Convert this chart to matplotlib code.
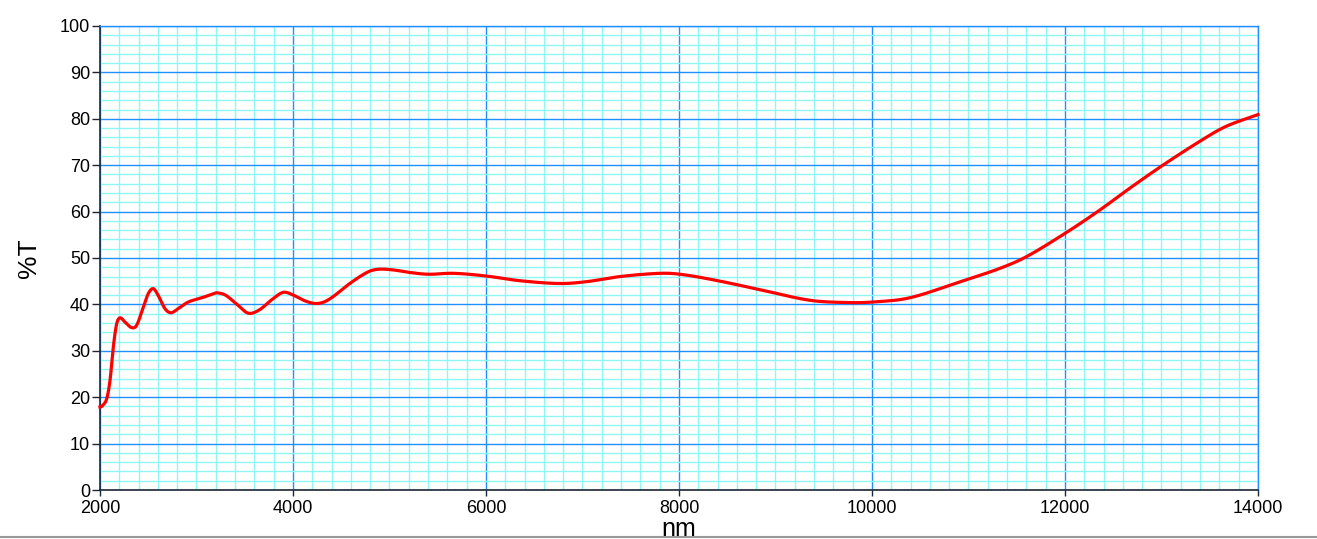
import matplotlib.pyplot as plt
import numpy as np
from matplotlib.ticker import MultipleLocator
from matplotlib.lines import Line2D

plt.rcParams['font.family'] = ['Liberation Sans', 'DejaVu Sans']

# wavelength (nm) and transmission (%T)
wl = [2000, 2018, 2069, 2104, 2138, 2173, 2207, 2259, 2328, 2380, 2449, 2500,
      2552, 2604, 2673, 2735, 2811, 2914, 3052, 3173, 3209, 3300, 3420, 3537,
      3650, 3780, 3900, 4003, 4120, 4228, 4320, 4418, 4550, 4694, 4800, 4901,
      5050, 5200, 5402, 5661, 6007, 6352, 6767, 7044, 7389, 7803, 8010, 8355,
      8834, 9351, 9731, 10000, 10386, 10903, 11317, 11593, 12000, 12352,
      12628, 13007, 13386, 13662, 14000]
trans = [17.9, 18.0, 19.6, 23.6, 30.8, 35.8, 37.1, 36.2, 35.0, 35.5, 39.4, 42.3,
         43.4, 41.9, 39.1, 38.2, 39.1, 40.5, 41.4, 42.3, 42.5, 42.0, 40.0, 38.1,
         38.8, 41.0, 42.6, 42.0, 40.8, 40.2, 40.5, 41.7, 43.9, 46.0, 47.2, 47.6,
         47.4, 46.9, 46.5, 46.7, 46.1, 45.1, 44.5, 44.9, 46.0, 46.7, 46.5, 45.3,
         43.2, 40.9, 40.4, 40.5, 41.4, 44.8, 47.7, 50.2, 55.3, 60.2,
         64.4, 69.9, 75.0, 78.3, 80.9]

xticks = [2000, 4000, 6000, 8000, 10000, 12000, 14000]
yticks = [0, 10, 20, 30, 40, 50, 60, 70, 80, 90, 100]

major_c = '#1E90FF'
minor_c = '#8EF6F6'

fig = plt.figure(figsize=(13.17, 5.39), dpi=100)
ax = fig.add_axes([0.0759, 0.0909, 0.8793, 0.8609])

# smooth the read points for drawing (cubic Hermite through them)
xs = np.array(wl, dtype=float)
ys = np.array(trans, dtype=float)
xf = np.linspace(xs[0], xs[-1], 3000)
def catmull(x, y, xn):
    out = np.empty_like(xn)
    idx = np.clip(np.searchsorted(x, xn) - 1, 0, len(x) - 2)
    for k, (i, xv) in enumerate(zip(idx, xn)):
        x0, x1 = x[i], x[i + 1]
        y0, y1 = y[i], y[i + 1]
        m0 = (y1 - y[i - 1]) / (x1 - x[i - 1]) if i > 0 else (y1 - y0) / (x1 - x0)
        m1 = (y[i + 2] - y0) / (x[i + 2] - x0) if i + 2 < len(x) else (y1 - y0) / (x1 - x0)
        h = x1 - x0
        t = (xv - x0) / h
        h00 = 2*t**3 - 3*t**2 + 1
        h10 = t**3 - 2*t**2 + t
        h01 = -2*t**3 + 3*t**2
        h11 = t**3 - t**2
        out[k] = h00*y0 + h10*h*m0 + h01*y1 + h11*h*m1
    return out
yf = catmull(xs, ys, xf)

ax.set_xlim(2000, 14000)
ax.set_ylim(0, 100)
ax.set_xticks(xticks)
ax.set_yticks(yticks)
ax.xaxis.set_minor_locator(MultipleLocator(200))
ax.yaxis.set_minor_locator(MultipleLocator(2))
ax.grid(which='minor', color=minor_c, linewidth=1.0, zorder=0)
ax.grid(which='major', color=major_c, linewidth=1.0, zorder=1)
ax.set_axisbelow(True)

ax.plot(xf, yf, color='#FF0000', linewidth=2.3, zorder=3, clip_on=False)

for s in ['top', 'right']:
    ax.spines[s].set_color(major_c)
    ax.spines[s].set_linewidth(1.0)
for s in ['left', 'bottom']:
    ax.spines[s].set_color('#1b2735')
    ax.spines[s].set_linewidth(1.2)

ax.tick_params(which='minor', length=0)
ax.tick_params(axis='y', which='major', length=6, width=1, color='#1b2735',
               labelsize=13, pad=1, labelcolor='black')
ax.tick_params(axis='x', which='major', length=4, width=1, color='#1b2735',
               labelsize=13, pad=3, labelcolor='black')

ax.set_xlabel('nm', fontsize=18, labelpad=0)
ax.set_ylabel('%T', fontsize=19, labelpad=14)

fig.add_artist(Line2D([0, 1], [0.003, 0.003], color='#999999', linewidth=1.5))

fig.savefig('out.png', dpi=100)
